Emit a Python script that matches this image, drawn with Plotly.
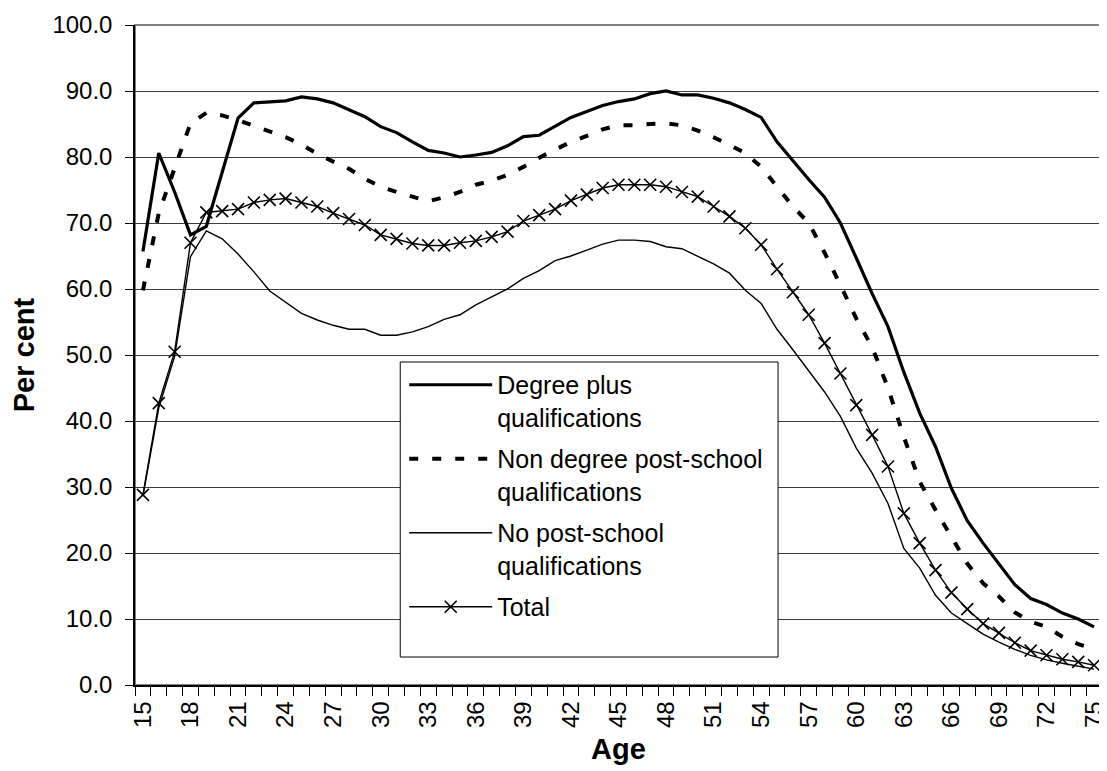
import plotly.graph_objects as go

ages = list(range(15, 76))

degree = [65.7, 80.6, 74.7, 68.2, 69.5, 77.8, 85.9, 88.2, 88.3, 88.5,
          89.1, 88.8, 88.2, 87.1, 86.1, 84.6, 83.7, 82.3, 81.0, 80.6,
          80.0, 80.3, 80.7, 81.7, 83.1, 83.3, 84.6, 86.0, 86.9, 87.8,
          88.4, 88.8, 89.6, 90.0, 89.4, 89.4, 88.9, 88.2, 87.2, 86.0,
          82.3, 79.4, 76.6, 73.9, 70.0, 64.7, 59.3, 54.3, 47.4, 41.2,
          36.1, 29.8, 24.9, 21.5, 18.4, 15.2, 13.1, 12.2, 10.9, 10.0,
          8.8]

non_degree = [59.8, 71.5, 78.3, 85.1, 86.7, 86.3, 85.6, 84.7, 83.8, 83.0,
              81.9, 80.5, 79.3, 78.2, 76.7, 75.5, 74.7, 74.0, 73.3, 73.9,
              74.7, 75.8, 76.4, 77.3, 78.5, 79.9, 81.1, 82.3, 83.2, 84.2,
              84.8, 84.8, 85.0, 85.1, 84.8, 84.0, 83.0, 81.8, 80.6, 78.5,
              75.5, 72.5, 70.0, 65.5, 60.6, 55.5, 51.2, 45.0, 37.6, 30.8,
              26.5, 22.4, 18.4, 15.4, 13.4, 11.0, 9.6, 8.8, 7.3, 6.2,
              5.4]

no_post = [28.6, 42.0, 49.8, 64.9, 68.8, 67.6, 65.3, 62.6, 59.7, 58.0,
           56.3, 55.3, 54.5, 53.9, 53.9, 53.0, 53.0, 53.5, 54.3, 55.4,
           56.1, 57.6, 58.8, 60.0, 61.6, 62.8, 64.3, 65.0, 65.9, 66.8,
           67.4, 67.4, 67.2, 66.4, 66.1, 64.9, 63.8, 62.4, 59.8, 57.8,
           53.9, 50.8, 47.6, 44.4, 40.7, 35.9, 32.1, 27.5, 20.7, 17.7,
           13.6, 10.9, 9.3, 7.7, 6.5, 5.4, 4.5, 3.8, 3.3, 2.9,
           2.4]

total = [28.8, 42.7, 50.5, 67.0, 71.6, 71.8, 72.1, 73.1, 73.5, 73.7,
         73.1, 72.5, 71.5, 70.6, 69.7, 68.2, 67.6, 66.9, 66.6, 66.6,
         67.0, 67.3, 67.9, 68.7, 70.3, 71.2, 72.1, 73.4, 74.3, 75.3,
         75.8, 75.8, 75.8, 75.5, 74.7, 74.0, 72.5, 71.0, 69.2, 66.7,
         63.0, 59.5, 56.1, 51.8, 47.2, 42.4, 37.9, 33.1, 26.0, 21.5,
         17.4, 14.0, 11.5, 9.3, 7.9, 6.4, 5.2, 4.5, 3.9, 3.5,
         3.0]

x_ticks = list(range(15, 76, 3))
y_ticks = list(range(0, 101, 10))

font = "Arial, Liberation Sans, sans-serif"

fig = go.Figure()
fig.add_trace(go.Scatter(x=ages, y=degree, mode="lines",
                         name="Degree plus<br>qualifications", legendgroup="a",
                         line=dict(color="black", width=3.2)))
fig.add_trace(go.Scatter(x=ages, y=non_degree, mode="lines",
                         name="Non degree post-school<br>qualifications", legendgroup="b",
                         line=dict(color="black", width=4, dash="9px,14px")))
fig.add_trace(go.Scatter(x=ages, y=no_post, mode="lines",
                         name="No post-school<br>qualifications", legendgroup="c",
                         line=dict(color="black", width=1.4)))
fig.add_trace(go.Scatter(x=ages, y=total, mode="lines+markers",
                         name="Total", legendgroup="d",
                         line=dict(color="black", width=1.4),
                         marker=dict(symbol="x-thin", size=12,
                                     line=dict(color="black", width=1.6))))

# grey plot-area border (top/right), axes drawn black on top
fig.add_shape(type="rect", xref="x domain", yref="y domain",
              x0=0, x1=1, y0=0, y1=1, layer="below",
              line=dict(color="#808080", width=2))

# legend frame (white box over the lines, legend text sits on it)
fig.add_shape(type="rect", xref="x domain", yref="y domain",
              x0=0.2743, x1=0.665, y0=0.0424, y1=0.4894, layer="above",
              fillcolor="white", line=dict(color="black", width=1))

# page body has an 8px margin, so the figure is 8px smaller than the window
fig.update_layout(
    width=1099, height=763,
    margin=dict(l=127, r=5, t=17, b=86, autoexpand=False),
    paper_bgcolor="white", plot_bgcolor="white",
    font=dict(family=font, size=24, color="black"),
    showlegend=True,
    legend=dict(x=0.2784, y=0.4894, xanchor="left", yanchor="top",
                bgcolor="rgba(0,0,0,0)", borderwidth=0,
                itemwidth=83, valign="top", traceorder="grouped",
                tracegroupgap=6, font=dict(size=25)),
    xaxis=dict(range=[14.5, 75.5], tickvals=x_ticks, ticks="",
               tickangle=-90, ticklabelstandoff=5,
               showline=True, linecolor="black", linewidth=1.5,
               showgrid=False, zeroline=False,
               minor=dict(tick0=14.5, dtick=1, ticks="outside", ticklen=9,
                          tickcolor="black", tickwidth=1, showgrid=False),
               title=dict(text="<b>Age</b>", standoff=12)),
    yaxis=dict(range=[0, 100], tickvals=y_ticks, tickformat=".1f",
               ticks="outside", ticklen=8, tickcolor="black",
               ticklabelstandoff=8,
               showline=True, linecolor="black", linewidth=1.5,
               showgrid=True, gridcolor="#3c3c3c", gridwidth=1,
               zeroline=False,
               title=dict(text="<b>Per cent</b>", standoff=14)),
)

fig.write_html("out.html")
